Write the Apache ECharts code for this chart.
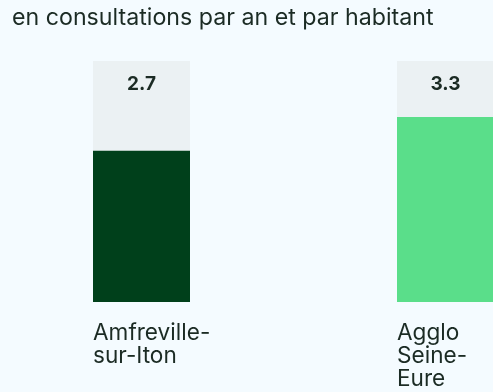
<!DOCTYPE html>
<html>
<head>
<meta charset="utf-8">
<script src="https://cdn.jsdelivr.net/npm/echarts@6/dist/echarts.min.js"></script>
<style>
  html, body { margin: 0; padding: 0; background: #f4fbff; }
  #chart { width: 493px; height: 392px; }
</style>
</head>
<body>
<div id="chart"></div>
<script>
// Consultations per year and per inhabitant
const categories = ['Amfreville-\nsur-Iton', 'Agglo\nSeine-\nEure'];
const values = [2.7, 3.3];
const barColors = ['#00401b', '#5ade8a'];
const scaleMax = 4.3;

const chart = echarts.init(document.getElementById('chart'));
const font = 'Inter, "Noto Sans", sans-serif';

chart.setOption({
  backgroundColor: '#f4fbff',
  animation: false,
  title: {
    text: 'en consultations par an et par habitant',
    left: 12,
    top: 7,
    padding: 0,
    textStyle: { fontFamily: font, fontSize: 23.2, fontWeight: 'normal', color: '#1b2b24' }
  },
  grid: { left: -10.5, width: 608, top: 61, bottom: 90, outerBoundsMode: 'none' },
  xAxis: {
    type: 'category',
    data: categories,
    axisLine: { show: false },
    axisTick: { show: false },
    axisLabel: {
      align: 'left',
      margin: 20,
      padding: [0, 0, 0, -48.5],
      fontFamily: font,
      fontSize: 22.6,
      lineHeight: 23,
      color: '#1b2b24'
    }
  },
  yAxis: {
    type: 'value',
    min: 0,
    max: scaleMax,
    show: false,
    splitLine: { show: false }
  },
  series: [
    {
      type: 'bar',
      barWidth: 97,
      silent: true,
      itemStyle: { color: '#ebf1f3' },
      data: values.map(() => scaleMax),
      label: {
        show: true,
        position: 'insideTop',
        distance: 14,
        formatter: p => values[p.dataIndex].toFixed(1),
        fontFamily: font,
        fontSize: 19,
        fontWeight: 'bold',
        color: '#1b2b24'
      },
      z: 1
    },
    {
      type: 'bar',
      barWidth: 97,
      barGap: '-100%',
      data: values.map((v, i) => ({ value: v, itemStyle: { color: barColors[i] } })),
      z: 2
    }
  ]
});
</script>
</body>
</html>
